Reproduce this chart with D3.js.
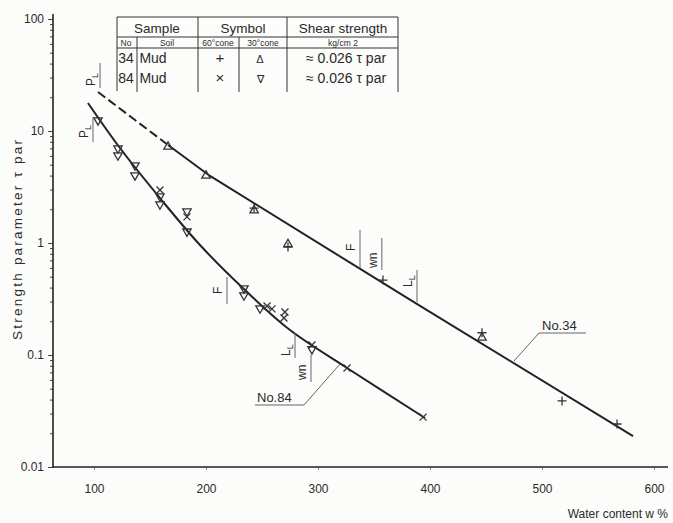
<!DOCTYPE html>
<html><head><meta charset="utf-8">
<script src="https://cdn.jsdelivr.net/npm/d3@7"></script>
<style>
html,body{margin:0;padding:0;background:#fcfcfb;}
svg{display:block;}
text{font-family:"Liberation Sans",Arial,sans-serif;fill:#2a2a2a;}
</style></head>
<body>
<svg id="c" width="673" height="523"></svg>
<script>
// ---- data ----
const xTicks = [100, 200, 300, 400, 500, 600];
const yMajor = [0.01, 0.1, 1, 10, 100];
const yMajorLabels = ["0.01", "0.1", "1", "10", "100"];
// fitted curves (water content %, strength parameter)
const line34 = [[103.6,22.3],[166.1,7.5],[203.6,3.97],[391.1,0.274],[581.3,0.0189]];
const line84 = [[94.6,17.8],[123.2,7.05],[158.9,2.52],[194.6,0.96],[234.8,0.38],[275,0.167],[325.9,0.0766],[395.5,0.0274]];
// sample 34: 60° cone (+), 30° cone (triangle up)
const s34cone60 = [[242.9,2.05],[273.2,0.92],[358,0.467],[446.4,0.158],[517.9,0.0389],[567,0.0242]];
const s34cone30 = [[166.1,7.35],[200,4.05],[243,1.98],[273.2,0.99],[446.4,0.145]];
// sample 84: 60° cone (x), 30° cone (triangle down)
const s84cone60 = [[158.9,2.97],[183,1.71],[254.5,0.274],[258.9,0.258],[270.5,0.242],[269.6,0.214],[294.6,0.123],[325.9,0.0766],[393.8,0.0279]];
const s84cone30 = [[103.6,12.3],[121.4,6.9],[121.4,5.98],[136.6,4.87],[136.6,3.97],[158.9,2.57],[158.9,2.18],[183,1.89],[183,1.25],[233.9,0.389],[233.9,0.336],[248.2,0.257],[294.6,0.111]];
// consistency limit markers: [label, subscript, water content, top value, bottom value]
const limits = [
  ["P","L",105.4,40.5,24.2],
  ["P","L",99.1,13.3,7.97],
  ["F","",337.5,1.31,0.598],
  ["w","n",357,1.108,0.574],
  ["L","L",388.4,0.574,0.297],
  ["F","",218.75,0.497,0.285],
  ["L","L",279.5,0.157,0.094],
  ["w","n",293.75,0.1,0.0574]
];
const curveLabels = ["No.34", "No.84"];
const tableHeader = ["Sample", "Symbol", "Shear strength"];
const tableSub = ["No", "Soil", "60°cone", "30°cone", "kg/cm 2"];
const tableRows = [["34","Mud","+","\u0394","\u2248 0.026 \u03C4 par"],["84","Mud","\u00D7","\u2207","\u2248 0.026 \u03C4 par"]];

// ---- layout helpers (pixel offsets, not data) ----
const limitLabelLift = [0, 2, 15, 0, 13, 8, 0, 0];

// ---- scales ----
const svg = d3.select("#c");
const x = d3.scaleLinear().domain([100, 600]).range([94, 654]);
const y = d3.scaleLog().domain([0.01, 100]).range([467, 19]);
const ink = "#222";

// ---- axes ----
const minors = [];
for (let d = 0.01; d < 100; d *= 10) for (let k = 2; k <= 9; k++) minors.push(d * k);
const yAx = svg.append("g").attr("transform", "translate(53,0)")
  .call(d3.axisLeft(y).tickValues(yMajor).tickSize(5).tickPadding(4).tickSizeOuter(0)
    .tickFormat((d, i) => yMajorLabels[i]));
yAx.select(".domain").remove();
yAx.selectAll("text").style("font-size", "12px").style("font-family", "Liberation Sans, Arial");
const yMin = svg.append("g").attr("transform", "translate(53,0)")
  .call(d3.axisLeft(y).tickValues(minors).tickSize(3).tickFormat(""));
yMin.select(".domain").remove();
svg.selectAll(".tick line").attr("stroke", "#444");
svg.append("line").attr("x1", 53).attr("x2", 53).attr("y1", 14).attr("y2", 467.5)
  .attr("stroke", ink).attr("stroke-width", 1.6);

const xAx = svg.append("g").attr("transform", "translate(0,467)")
  .call(d3.axisBottom(x).tickValues(xTicks).tickSize(3).tickPadding(14).tickSizeOuter(0));
xAx.select(".domain").remove();
xAx.selectAll(".tick line").attr("stroke", "#888");
xAx.selectAll("text").style("font-size", "12px").style("font-family", "Liberation Sans, Arial");
svg.append("line").attr("x1", 52.5).attr("x2", x(612.5)).attr("y1", 467).attr("y2", 467)
  .attr("stroke", ink).attr("stroke-width", 1.6);

svg.append("text").attr("transform", "translate(22,240) rotate(-90)")
  .attr("text-anchor", "middle").style("font-size", "13.5px")
  .attr("textLength", 200).attr("lengthAdjust", "spacing")
  .text("Strength parameter  \u03C4 par");
svg.append("text").attr("x", 668).attr("y", 518).attr("text-anchor", "end")
  .style("font-size", "12px").text("Water content  w %");

// ---- curves ----
const lgLin = d3.line().x(d => x(d[0])).y(d => y(d[1]));
const lg = d3.line().x(d => x(d[0])).y(d => y(d[1])).curve(d3.curveCatmullRom.alpha(0.5));
svg.append("path").attr("d", lgLin(line34.slice(0, 2))).attr("fill", "none")
  .attr("stroke", ink).attr("stroke-width", 2).attr("stroke-dasharray", "9,4");
svg.append("path").attr("d", lgLin(line34.slice(1))).attr("fill", "none")
  .attr("stroke", ink).attr("stroke-width", 2).attr("stroke-linejoin", "round");
svg.append("path").attr("d", lg(line84)).attr("fill", "none")
  .attr("stroke", ink).attr("stroke-width", 2);

// ---- markers ----
const mk = svg.append("g").attr("fill", "none").attr("stroke", "#333").attr("stroke-width", 1.3);
function plus(d){const a=x(d[0]),b=y(d[1]),r=4.5;return `M${a-r},${b}H${a+r}M${a},${b-r}V${b+r}`;}
function cross(d){const a=x(d[0]),b=y(d[1]),r=3.5;return `M${a-r},${b-r}L${a+r},${b+r}M${a-r},${b+r}L${a+r},${b-r}`;}
function triUp(d){const a=x(d[0]),b=y(d[1]),r=4.2;return `M${a},${b-r}L${a+r},${b+r*0.75}L${a-r},${b+r*0.75}Z`;}
function triDn(d){const a=x(d[0]),b=y(d[1]),r=4.2;return `M${a},${b+r}L${a+r},${b-r*0.75}L${a-r},${b-r*0.75}Z`;}
mk.selectAll(".p34").data(s34cone60).join("path").attr("d", plus);
mk.selectAll(".t34").data(s34cone30).join("path").attr("d", triUp);
mk.selectAll(".x84").data(s84cone60).join("path").attr("d", cross);
mk.selectAll(".t84").data(s84cone30).join("path").attr("d", triDn);

// ---- limit markers ----
limits.forEach((l, i) => {
  const lx = x(l[2]), y1 = y(l[3]), y2 = y(l[4]);
  svg.append("line").attr("x1", lx).attr("x2", lx).attr("y1", y1).attr("y2", y2)
    .attr("stroke", "#666").attr("stroke-width", 1);
  const t = svg.append("text").attr("transform", `translate(${lx - 5},${y2 - 2 - limitLabelLift[i]}) rotate(-90)`)
    .style("font-size", "12px");
  t.append("tspan").text(l[0]);
  if (l[1]) t.append("tspan").attr("dy", l[0] === "w" ? 0 : 3).style("font-size", l[0] === "w" ? "12px" : "9px").text(l[1]);
});

// ---- curve labels with leaders ----
function leader(text, tx, ty, u1, u2, ax, ay, bx, by) {
  svg.append("text").attr("x", tx).attr("y", ty).style("font-size", "13px").text(text);
  svg.append("path").attr("d", `M${u2},${ty + 3}H${u1}`).attr("stroke", "#666").attr("fill", "none");
  svg.append("path").attr("d", `M${ax},${ay}L${bx},${by}`).attr("stroke", "#666").attr("fill", "none");
}
leader(curveLabels[0], 542, 330, 539, 586, 539, 333, 514, 361);
leader(curveLabels[1], 257, 402, 255, 304, 304, 405, 340, 364);

// ---- table ----
const tg = svg.append("g").attr("stroke", "#333").attr("stroke-width", 1);
[[117,17,398,17],[117,37,398,37],[117,48,398,48],
 [117,17,117,91],[137,37,137,92],[198,17,198,92],[239,37,239,92],[287,17,287,92],[398,17,398,92]]
  .forEach(s => tg.append("line").attr("x1", s[0]).attr("y1", s[1]).attr("x2", s[2]).attr("y2", s[3]));
const hx = [157, 243, 343];
tableHeader.forEach((h, i) => svg.append("text").attr("x", hx[i]).attr("y", 33)
  .attr("text-anchor", "middle").style("font-size", "13.5px").text(h));
const sx = [126, 167, 218, 263, 343];
tableSub.forEach((h, i) => svg.append("text").attr("x", sx[i]).attr("y", 46)
  .attr("text-anchor", "middle").style("font-size", "8.5px").text(h));
const rx = [126, 153, 220, 260, 346];
const ry = [63, 83];
tableRows.forEach((r, j) => r.forEach((c, i) => svg.append("text").attr("x", rx[i]).attr("y", ry[j])
  .attr("text-anchor", "middle")
  .style("font-size", i === 2 ? "15px" : (i === 3 ? "11px" : "14px")).text(c)));
</script>
</body></html>
